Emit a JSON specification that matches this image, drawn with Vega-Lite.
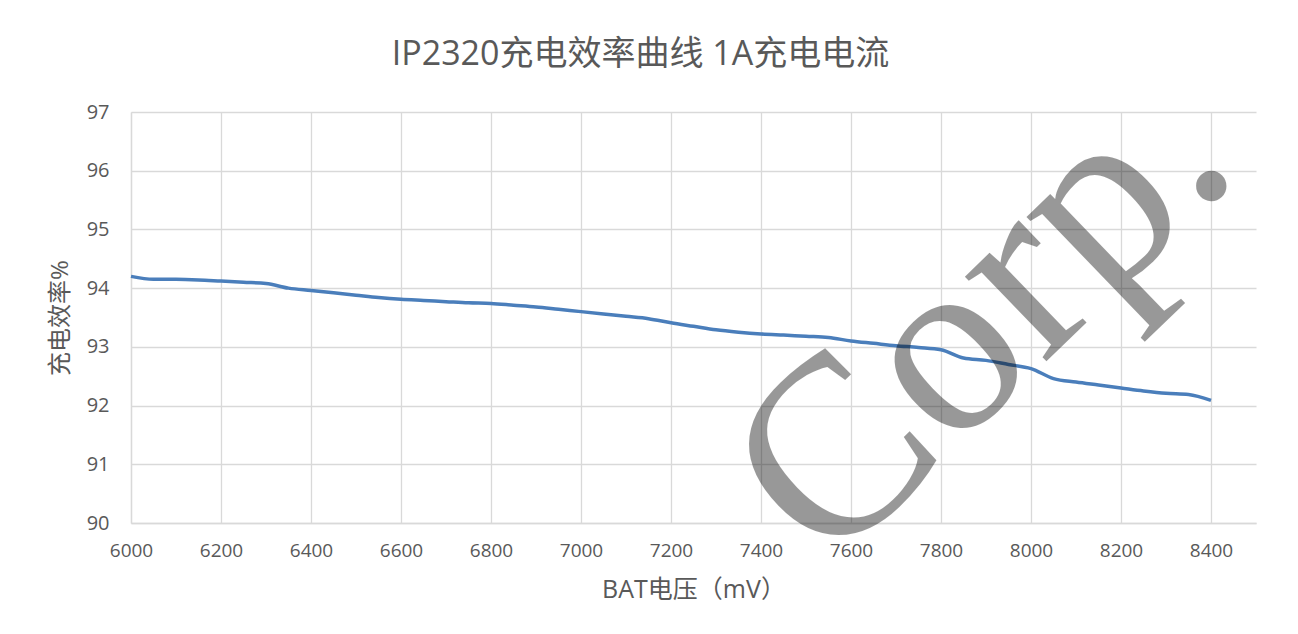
{
  "$schema": "https://vega.github.io/schema/vega-lite/v6.json",
  "autosize": {"type": "none"},
  "width": 1125,
  "height": 411,
  "padding": {"left": 131, "top": 112, "right": 42, "bottom": 111},
  "background": "#ffffff",
  "config": {
    "view": {"stroke": null},
    "axis": {
      "gridColor": "#d9d9d9",
      "gridWidth": 1.3,
      "domainColor": "#d9d9d9",
      "domainWidth": 1.3,
      "ticks": false,
      "labelFlush": false,
      "labelOverlap": false,
      "labelColor": "#595959",
      "titleColor": "#595959",
      "labelFont": "Open Sans",
      "titleFont": "Open Sans, Noto Sans CJK SC",
      "titleFontWeight": "normal"
    }
  },
  "resolve": {"axis": {"x": "independent"}},
  "layer": [
    {
      "data": {
        "values": [
          {"v": 6000, "eff": 94.2},
          {"v": 6050, "eff": 94.15},
          {"v": 6100, "eff": 94.15},
          {"v": 6150, "eff": 94.14},
          {"v": 6200, "eff": 94.12},
          {"v": 6250, "eff": 94.1},
          {"v": 6300, "eff": 94.08},
          {"v": 6350, "eff": 94.0},
          {"v": 6400, "eff": 93.96},
          {"v": 6450, "eff": 93.92},
          {"v": 6500, "eff": 93.88},
          {"v": 6550, "eff": 93.84},
          {"v": 6600, "eff": 93.81},
          {"v": 6650, "eff": 93.79},
          {"v": 6700, "eff": 93.77},
          {"v": 6750, "eff": 93.75},
          {"v": 6800, "eff": 93.74},
          {"v": 6850, "eff": 93.71},
          {"v": 6900, "eff": 93.68},
          {"v": 6950, "eff": 93.64},
          {"v": 7000, "eff": 93.6},
          {"v": 7050, "eff": 93.56},
          {"v": 7100, "eff": 93.52},
          {"v": 7150, "eff": 93.48},
          {"v": 7200, "eff": 93.41},
          {"v": 7250, "eff": 93.35},
          {"v": 7300, "eff": 93.29},
          {"v": 7350, "eff": 93.25},
          {"v": 7400, "eff": 93.22},
          {"v": 7450, "eff": 93.2},
          {"v": 7500, "eff": 93.18},
          {"v": 7550, "eff": 93.16},
          {"v": 7600, "eff": 93.1},
          {"v": 7650, "eff": 93.06},
          {"v": 7700, "eff": 93.02},
          {"v": 7750, "eff": 92.99},
          {"v": 7800, "eff": 92.95},
          {"v": 7850, "eff": 92.81},
          {"v": 7900, "eff": 92.77},
          {"v": 7950, "eff": 92.7},
          {"v": 8000, "eff": 92.63},
          {"v": 8050, "eff": 92.46},
          {"v": 8100, "eff": 92.4},
          {"v": 8150, "eff": 92.35},
          {"v": 8200, "eff": 92.3},
          {"v": 8250, "eff": 92.25},
          {"v": 8300, "eff": 92.21},
          {"v": 8350, "eff": 92.19},
          {"v": 8400, "eff": 92.09}
        ]
      },
      "mark": {"type": "line", "color": "#4a7ebb", "strokeWidth": 3.5, "interpolate": "monotone"},
      "encoding": {
        "x": {
          "field": "v",
          "type": "quantitative",
          "scale": {"domain": [6000, 8500], "nice": false, "zero": false},
          "axis": {
            "orient": "bottom",
            "values": [6000, 6200, 6400, 6600, 6800, 7000, 7200, 7400, 7600, 7800, 8000, 8200, 8400],
            "format": "d",
            "title": "BAT电压（mV）",
            "titleFontSize": 25,
            "titlePadding": 17,
            "labelFontSize": 19,
            "labelPadding": 18
          }
        },
        "y": {
          "field": "eff",
          "type": "quantitative",
          "scale": {"domain": [90, 97], "nice": false, "zero": false},
          "axis": {
            "values": [90, 91, 92, 93, 94, 95, 96, 97],
            "format": "d",
            "title": "充电效率%",
            "titleFontSize": 24,
            "titlePadding": 14,
            "labelFontSize": 20,
            "labelPadding": 22
          }
        }
      }
    },
    {
      "data": {"values": [{"label": "Corp.", "v": 8009, "eff": 92.57}]},
      "mark": {
        "type": "text",
        "font": "Liberation Serif",
        "fontSize": 256,
        "angle": -44,
        "align": "center",
        "baseline": "alphabetic",
        "fill": "#000000",
        "opacity": 0.4,
        "clip": false
      },
      "encoding": {
        "x": {
          "field": "v",
          "type": "quantitative",
          "axis": {
            "orient": "top",
            "labels": false,
            "ticks": false,
            "domain": false,
            "grid": false,
            "title": "IP2320充电效率曲线 1A充电电流",
            "titleFontSize": 34,
            "titleColor": "#595959",
            "titleAlign": "center",
            "titleBaseline": "alphabetic",
            "titleX": 509,
            "titleY": -48
          }
        },
        "y": {"field": "eff", "type": "quantitative"},
        "text": {"field": "label"}
      }
    }
  ]
}
